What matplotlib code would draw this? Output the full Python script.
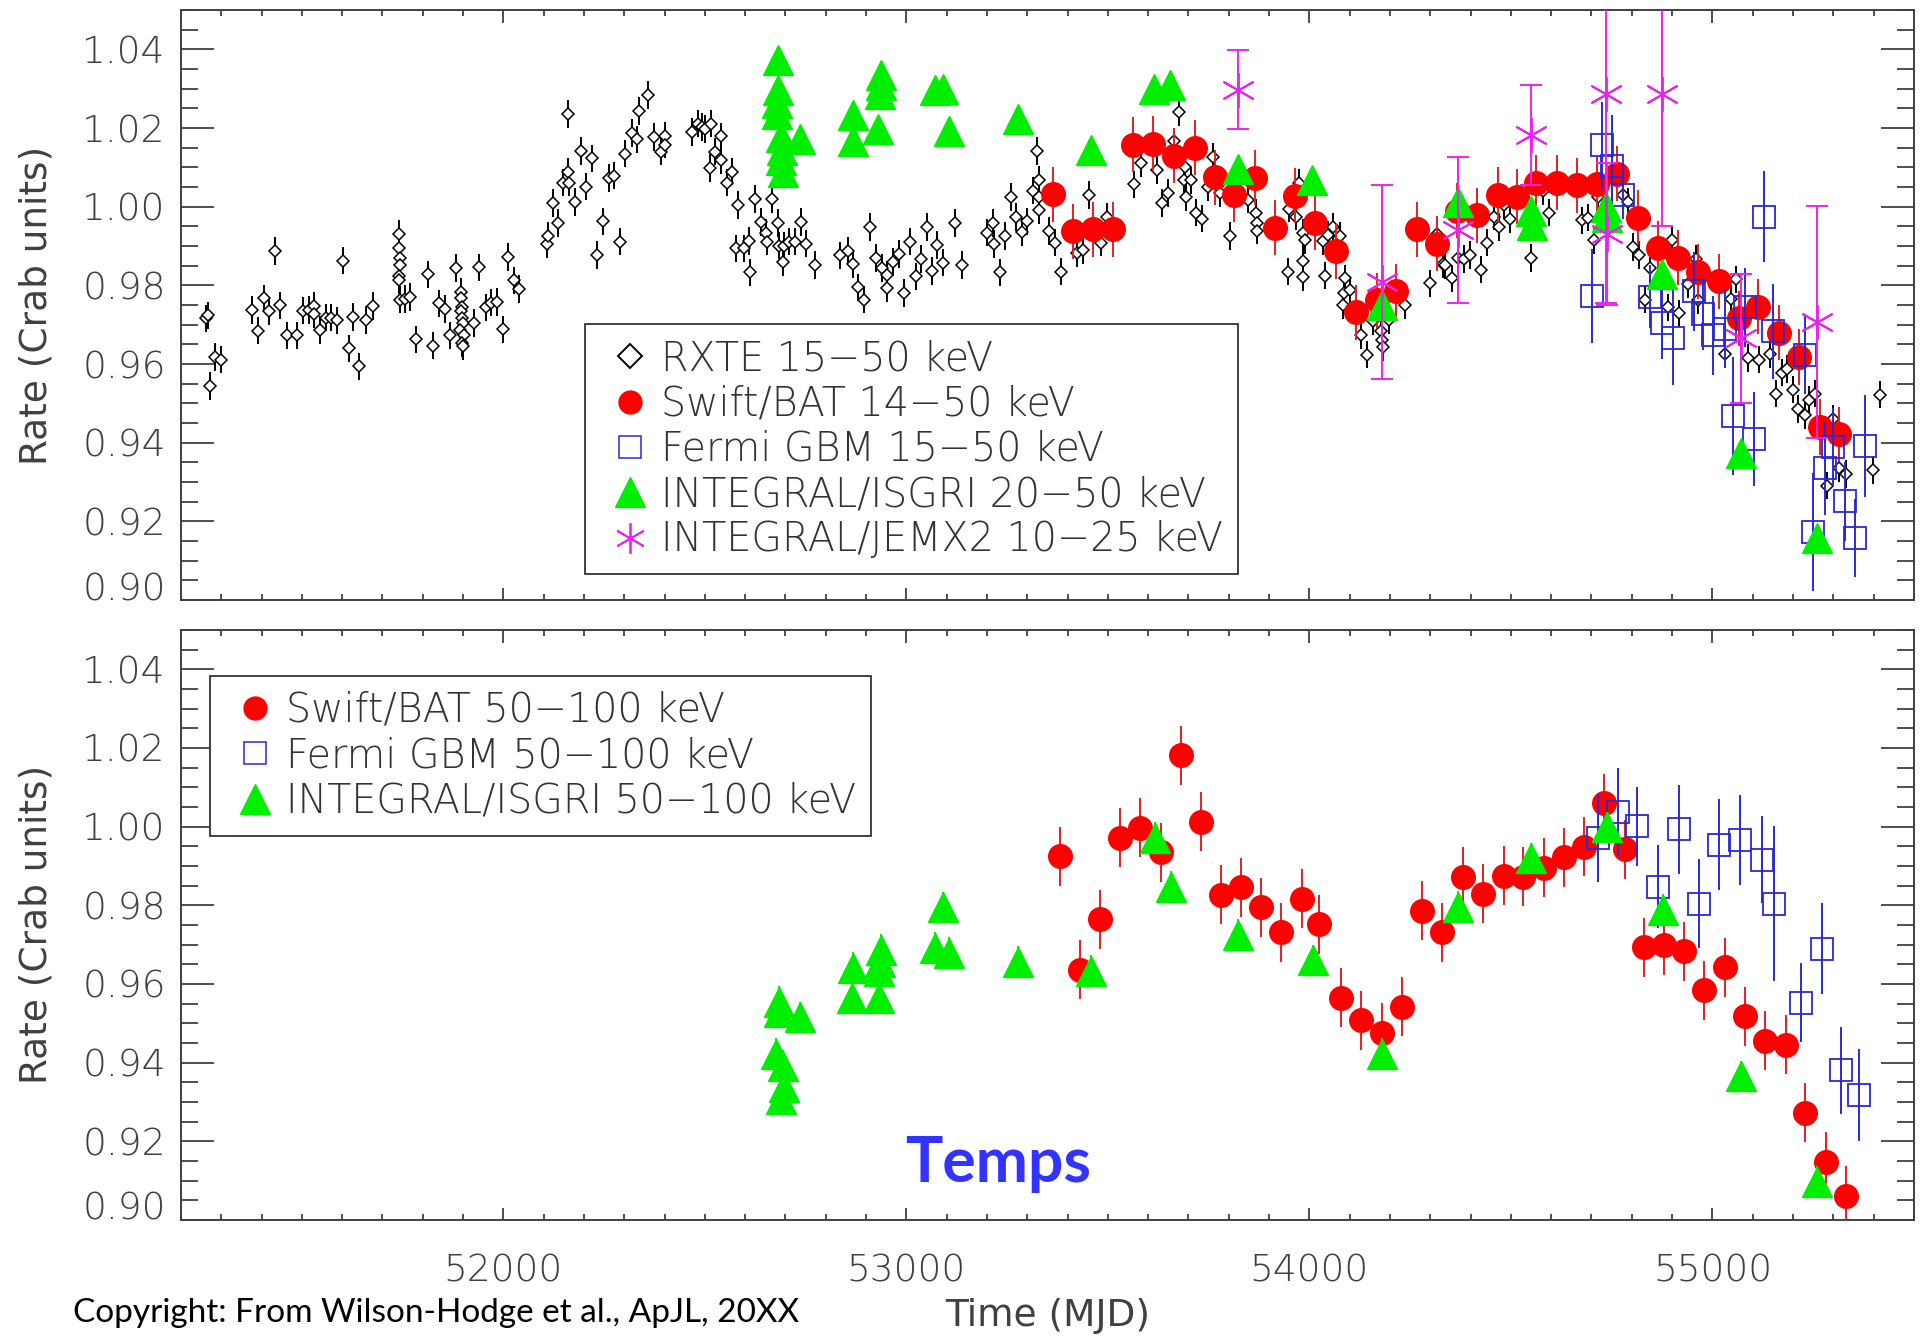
#--coding:utf-8--
# Crab nebula hard X-ray rate, several instruments (two panels)

import matplotlib
matplotlib.use('Agg')
import matplotlib.pyplot as plt
from matplotlib.lines import Line2D
from matplotlib.ticker import MultipleLocator

matplotlib.rcParams['xtick.direction'] = 'in'
matplotlib.rcParams['ytick.direction'] = 'in'
matplotlib.rcParams['font.family'] = ['DejaVu Sans']
matplotlib.rcParams['font.weight'] = 'light'

# ---------------- top panel: 15-50 keV ----------------
rxte_mjd = [51263, 51268, 51272, 51285, 51300, 51376, 51390, 51405, 51418, 51434,
            51445, 51462, 51488, 51503, 51517, 51530, 51530, 51545, 51560, 51573,
            51586, 51601, 51618, 51628, 51643, 51658, 51677, 51741, 51742, 51743,
            51744, 51742, 51741, 51743, 51755, 51769, 51784, 51812, 51825, 51840,
            51856, 51868, 51883, 51896, 51894, 51897, 51895, 51898, 51900, 51893,
            51902, 51897, 51900, 51926, 51939, 51956, 51969, 51984, 51998, 52012,
            52026, 52039, 52109, 52112, 52122, 52135, 52148, 52160, 52162, 52161,
            52177, 52192, 52205, 52221, 52233, 52248, 52261, 52274, 52289, 52303,
            52318, 52331, 52337, 52360, 52374, 52390, 52401, 52402, 52469, 52483,
            52494, 52501, 52516, 52512, 52525, 52540, 52541, 52554, 52567, 52583,
            52577, 52598, 52610, 52611, 52625, 52640, 52652, 52653, 52667, 52682,
            52683, 52693, 52697, 52710, 52723, 52738, 52751, 52774, 52836, 52854,
            52867, 52881, 52896, 52910, 52924, 52939, 52952, 52953, 52967, 52982,
            52993, 53010, 53023, 53036, 53050, 53063, 53076, 53091, 53120, 53139,
            53199, 53216, 53217, 53232, 53245, 53259, 53272, 53286, 53300, 53314,
            53323, 53328, 53329, 53330, 53355, 53369, 53384, 53423, 53439, 53452,
            53483, 53499, 53566, 53582, 53621, 53634, 53648, 53664, 53677, 53692,
            53689, 53693, 53706, 53718, 53733, 53748, 53762, 53777, 53804, 53847,
            53868, 53869, 53870, 53947, 53949, 53966, 53974, 53983, 53984, 53985,
            53988, 54034, 54038, 54046, 54058, 54075, 54083, 54085, 54088, 54100,
            54129, 54143, 54157, 54178, 54180, 54183, 54198, 54237, 54299, 54316,
            54331, 54337, 54353, 54368, 54383, 54398, 54426, 54441, 54458, 54470,
            54484, 54498, 54550, 54579, 54594, 54677, 54691, 54705, 54716, 54778,
            54790, 54803, 54817, 54832, 54846, 54890, 54900, 54917, 54939, 54960,
            54964, 55031, 55045, 55058, 55089, 55116, 55143, 55158, 55172, 55186,
            55201, 55213, 55230, 55240, 55255, 55284, 55299, 55315, 55332, 55398,
            55415]
rxte_rate = [0.9716, 0.9724, 0.9544, 0.9618, 0.9611, 0.9737, 0.9685, 0.9767, 0.9735, 0.9887,
             0.9749, 0.9673, 0.9673, 0.9736, 0.9738, 0.9748, 0.9726, 0.9687, 0.9718, 0.9718,
             0.9711, 0.9863, 0.9640, 0.9719, 0.9594, 0.9712, 0.9748, 0.9931, 0.9896, 0.9870,
             0.9852, 0.9825, 0.9813, 0.9764, 0.9766, 0.9770, 0.9663, 0.9828, 0.9647, 0.9754,
             0.9740, 0.9673, 0.9844, 0.9783, 0.9768, 0.9744, 0.9734, 0.9716, 0.9704, 0.9687,
             0.9675, 0.9653, 0.9645, 0.9704, 0.9846, 0.9744, 0.9756, 0.9758, 0.9688, 0.9872,
             0.9813, 0.9791, 0.9904, 0.9925, 1.0010, 0.9958, 1.0061, 1.0089, 1.0061, 1.0236,
             1.0012, 1.0142, 1.0051, 1.0123, 0.9877, 0.9963, 1.0073, 1.0079, 0.9911, 1.0135,
             1.0187, 1.0171, 1.0243, 1.0284, 1.0177, 1.0140, 1.0180, 1.0158, 1.0190, 1.0211,
             1.0202, 1.0197, 1.0211, 1.0099, 1.0140, 1.0179, 1.0118, 1.0061, 1.0089, 1.0005,
             0.9894, 0.9894, 0.9913, 0.9833, 1.0020, 0.9961, 0.9933, 0.9911, 1.0020, 0.9959,
             0.9901, 0.9860, 0.9900, 0.9911, 0.9911, 0.9961, 0.9906, 0.9852, 0.9876, 0.9887,
             0.9854, 0.9795, 0.9764, 0.9949, 0.9870, 0.9844, 0.9827, 0.9793, 0.9860, 0.9880,
             0.9781, 0.9911, 0.9823, 0.9867, 0.9948, 0.9837, 0.9903, 0.9858, 0.9958, 0.9852,
             0.9934, 0.9959, 0.9905, 0.9833, 0.9926, 1.0025, 0.9974, 0.9936, 0.9963, 1.0041,
             1.0141, 1.0069, 1.0025, 0.9992, 0.9938, 0.9909, 0.9835, 0.9882, 0.9890, 1.0030,
             0.9909, 0.9975, 1.0057, 1.0110, 1.0094, 1.0010, 1.0035, 1.0166, 1.0241, 1.0100,
             1.0067, 1.0025, 1.0067, 0.9985, 0.9970, 1.0049, 1.0126, 1.0035, 0.9926, 1.0018,
             0.9985, 0.9959, 0.9939, 0.9835, 0.9995, 0.9975, 1.0061, 0.9933, 0.9862, 0.9821,
             0.9916, 0.9913, 0.9825, 0.9929, 0.9949, 0.9926, 0.9749, 0.9781, 0.9818, 0.9788,
             0.9673, 0.9624, 0.9709, 0.9683, 0.9660, 0.9643, 0.9712, 0.9749, 0.9805, 0.9931,
             0.9854, 0.9852, 0.9818, 0.9870, 0.9867, 0.9877, 0.9840, 0.9909, 0.9975, 0.9949,
             1.0005, 0.9968, 0.9870, 1.0039, 0.9985, 0.9965, 0.9972, 0.9916, 1.0025, 1.0030,
             1.0012, 0.9897, 0.9877, 0.9764, 0.9844, 0.9744, 0.9916, 0.9729, 0.9803, 0.9867,
             0.9762, 0.9626, 0.9766, 0.9815, 0.9616, 0.9611, 0.9626, 0.9525, 0.9578, 0.9588,
             0.9535, 0.9486, 0.9470, 0.9509, 0.9525, 0.9291, 0.9460, 0.9335, 0.9320, 0.9330,
             0.9522]
rxte_err = 0.0035

bat_mjd = [53365, 53413, 53462, 53513, 53563, 53613, 53663, 53715, 53765, 53814,
           53866, 53914, 53965, 54015, 54066, 54115, 54167, 54216, 54266, 54316,
           54366, 54417, 54467, 54515, 54562, 54614, 54663, 54713, 54763, 54815,
           54865, 54915, 54964, 55017, 55066, 55114, 55166, 55216, 55267, 55315]
bat_rate = [1.0032, 0.9938, 0.9943, 0.9943, 1.0158, 1.0160, 1.0130, 1.0150, 1.0075, 1.0030,
            1.0074, 0.9946, 1.0028, 0.9959, 0.9887, 0.9732, 0.9762, 0.9785, 0.9943, 0.9906,
            0.9990, 0.9978, 1.0030, 1.0025, 1.0061, 1.0061, 1.0054, 1.0057, 1.0084, 0.9972,
            0.9894, 0.9870, 0.9835, 0.9811, 0.9716, 0.9746, 0.9680, 0.9618, 0.9440, 0.9421]
bat_err = 0.007

gbm_mjd = [54701, 54726, 54751, 54778, 54846, 54876, 54902, 54954, 54976, 55002,
           55031, 55051, 55080, 55103, 55128, 55151, 55230, 55249, 55279, 55300,
           55329, 55354, 55379]
gbm_rate = [0.9773, 1.0156, 1.0103, 1.0030, 0.9771, 0.9704, 0.9667, 0.9785, 0.9726, 0.9673,
            0.9690, 0.9468, 0.9744, 0.9409, 0.9975, 0.9683, 0.9624, 0.9172, 0.9335, 0.9389,
            0.9251, 0.9158, 0.9391]
gbm_err = [0.012, 0.011, 0.013, 0.006, 0.008, 0.009, 0.012, 0.010, 0.009, 0.010,
           0.010, 0.015, 0.010, 0.012, 0.0115, 0.012, 0.010, 0.015, 0.012, 0.010,
           0.010, 0.010, 0.013]

isgri_mjd = [52681, 52681, 52678, 52678, 52689, 52692, 52689, 52693, 52735, 52867,
             52867, 52938, 52938, 52934, 52930, 53070, 53091, 53106, 53278, 53458,
             53615, 53654, 53824, 54007, 54179, 54370, 54550, 54552, 54736, 54738,
             54876, 55072, 55260]
isgri_rate = [1.0374, 1.0296, 1.0264, 1.0236, 1.0177, 1.0143, 1.0118, 1.0089, 1.0172, 1.0232,
              1.0168, 1.0335, 1.0310, 1.0286, 1.0197, 1.0296, 1.0300, 1.0192, 1.0222, 1.0143,
              1.0300, 1.0310, 1.0097, 1.0067, 0.9749, 1.0012, 0.9990, 0.9953, 1.0000, 0.9975,
              0.9828, 0.9374, 0.9158]
isgri_err = 0.003

jemx_mjd = [53824, 54179, 54370, 54550, 54735, 54739, 54876, 55072, 55260]
jemx_rate = [1.0298, 0.9808, 0.9941, 1.0182, 1.0286, 0.9931, 1.0286, 0.9665, 0.9706]
jemx_err = [0.010, 0.0246, 0.0185, 0.0128, 0.053, 0.018, 0.0335, 0.0163, 0.0295]

# ---------------- bottom panel: 50-100 keV ----------------
bat2_mjd = [53381, 53432, 53481, 53530, 53580, 53631, 53682, 53732, 53781, 53830,
            53881, 53930, 53981, 54024, 54079, 54129, 54179, 54230, 54280, 54330,
            54380, 54430, 54482, 54531, 54581, 54631, 54682, 54732, 54782, 54831,
            54881, 54930, 54980, 55031, 55080, 55130, 55182, 55231, 55281, 55331]
bat2_rate = [0.9924, 0.9636, 0.9764, 0.9972, 0.9997, 0.9935, 1.0181, 1.0012, 0.9827, 0.9846,
             0.9795, 0.9731, 0.9817, 0.9752, 0.9565, 0.9508, 0.9476, 0.9542, 0.9786, 0.9732,
             0.9873, 0.9829, 0.9875, 0.9873, 0.9895, 0.9922, 0.9949, 1.0060, 0.9942, 0.9693,
             0.9698, 0.9683, 0.9584, 0.9643, 0.9518, 0.9456, 0.9446, 0.9272, 0.9148, 0.9062]
bat2_err = 0.0075

gbm2_mjd = [54715, 54767, 54814, 54866, 54917, 54966, 55016, 55069, 55122, 55154,
            55221, 55271, 55318, 55365]
gbm2_rate = [0.9971, 1.0037, 1.0001, 0.9847, 0.9993, 0.9804, 0.9954, 0.9966, 0.9916, 0.9804,
             0.9552, 0.9690, 0.9380, 0.9318]
gbm2_err = [0.0113, 0.0113, 0.010, 0.0106, 0.0113, 0.0113, 0.0116, 0.0114, 0.011, 0.0197,
            0.010, 0.0116, 0.011, 0.0117]

isgri2_mjd = [52684, 52684, 52735, 52676, 52694, 52696, 52689, 52868, 52865, 52937,
              52934, 52932, 52931, 53091, 53070, 53106, 53278, 53459, 53616, 53656,
              53824, 54009, 54179, 54370, 54551, 54738, 54877, 55071, 55259]
isgri2_rate = [0.9555, 0.9528, 0.9515, 0.9422, 0.9392, 0.9338, 0.9308, 0.9640, 0.9564, 0.9687,
               0.9657, 0.9633, 0.9564, 0.9795, 0.9691, 0.9679, 0.9657, 0.9633, 0.9972, 0.9846,
               0.9724, 0.9660, 0.9422, 0.9796, 0.9919, 0.9998, 0.9788, 0.9365, 0.9097]
isgri2_err = 0.004

yticks = [0.90, 0.92, 0.94, 0.96, 0.98, 1.00, 1.02, 1.04]
xticks = [52000, 53000, 54000, 55000]

GREY = '#404040'
RED = '#ff0000'
BLUE = '#2a2ad2'
GREEN = '#00ee00'
MAGENTA = '#ee22ee'


def style_axes(ax, show_xlabels):
    ax.set_xlim(51200, 55500)
    ax.set_ylim(0.90, 1.05)
    ax.set_yticks(yticks)
    ax.set_yticklabels(['%.2f' % v for v in yticks])
    ax.yaxis.set_minor_locator(MultipleLocator(0.005))
    ax.set_xticks(xticks)
    ax.xaxis.set_minor_locator(MultipleLocator(100))
    ax.tick_params(axis='y', which='major', length=24, width=1.3, pad=11,
                   labelsize=27, labelcolor=GREY, color=GREY, left=True, right=True)
    ax.tick_params(axis='y', which='minor', length=12, width=1.3, color=GREY,
                   left=True, right=True)
    ax.tick_params(axis='x', which='major', length=9, width=1.3, pad=24,
                   labelsize=27, labelcolor=GREY, color=GREY, top=True, bottom=True,
                   labelbottom=show_xlabels)
    ax.tick_params(axis='x', which='minor', length=4.5, width=1.3, color=GREY,
                   top=True, bottom=True)
    for sp in ax.spines.values():
        sp.set_linewidth(1.4)
        sp.set_color(GREY)
    ax.get_yticklabels()[0].set_va('baseline')
    ax.set_ylabel('Rate (Crab units)', fontsize=27, color=GREY, labelpad=20)


fig = plt.figure(figsize=(19.27, 13.40), dpi=100)
ax1 = fig.add_axes([0.0939, 0.5522, 0.8993, 0.4403])
ax2 = fig.add_axes([0.0939, 0.0896, 0.8993, 0.4403])

# top panel
ax1.errorbar(rxte_mjd, rxte_rate, yerr=rxte_err, fmt='D', ms=6.2, mfc='white', mec='k',
             mew=1.1, ecolor='k', elinewidth=1.4, capsize=0, zorder=3)
ax1.errorbar(bat_mjd, bat_rate, yerr=bat_err, fmt='o', ms=17, mfc=RED, mec=RED,
             ecolor='#e02020', elinewidth=1.4, capsize=0, zorder=4)
ax1.errorbar(gbm_mjd, gbm_rate, yerr=gbm_err, fmt='s', ms=16, mfc='none', mec=BLUE,
             mew=1.3, ecolor=BLUE, elinewidth=1.4, capsize=0, zorder=5)
ax1.errorbar(isgri_mjd, isgri_rate, yerr=isgri_err, fmt='^', ms=21, mfc=GREEN, mec=GREEN,
             ecolor=GREEN, elinewidth=1.4, capsize=0, zorder=6)
ax1.errorbar(jemx_mjd, jemx_rate, yerr=jemx_err, fmt='none', ecolor=MAGENTA,
             elinewidth=1.4, capsize=8, capthick=1.4, zorder=7)
ax1.plot(jemx_mjd, jemx_rate, ls='none', marker=(6, 2, 0), ms=25, mec=MAGENTA,
         mew=1.4, zorder=7)
style_axes(ax1, False)

h_rxte = Line2D([], [], ls='none', marker='D', ms=12, mfc='none', mec='k', mew=1.4)
h_bat = Line2D([], [], ls='none', marker='o', ms=16.5, mfc=RED, mec=RED)
h_gbm = Line2D([], [], ls='none', marker='s', ms=15.5, mfc='none', mec=BLUE, mew=1.1)
h_isgri = Line2D([], [], ls='none', marker='^', ms=21, mfc=GREEN, mec=GREEN)
h_jemx = Line2D([], [], ls='none', marker=(6, 2, 0), ms=22, mec=MAGENTA, mew=1.3)

leg_kw = dict(loc='upper left', borderaxespad=0, fontsize=28.5, labelcolor='#333333',
              fancybox=False, framealpha=1, edgecolor='#333333', borderpad=0.38,
              labelspacing=0.16, handlelength=1.5, handletextpad=0.05, numpoints=1)

leg1 = ax1.legend([h_rxte, h_bat, h_gbm, h_isgri, h_jemx],
                  ['RXTE 15\u221250 keV', 'Swift/BAT 14\u221250 keV',
                   'Fermi GBM 15\u221250 keV', 'INTEGRAL/ISGRI 20\u221250 keV',
                   'INTEGRAL/JEMX2 10\u221225 keV'],
                  bbox_to_anchor=(0.2331, 0.4678), **leg_kw)
leg1.get_frame().set_linewidth(1.3)
leg1.set_zorder(10)

# bottom panel
ax2.errorbar(bat2_mjd, bat2_rate, yerr=bat2_err, fmt='o', ms=17, mfc=RED, mec=RED,
             ecolor='#e02020', elinewidth=1.4, capsize=0, zorder=4)
ax2.errorbar(gbm2_mjd, gbm2_rate, yerr=gbm2_err, fmt='s', ms=16, mfc='none', mec=BLUE,
             mew=1.3, ecolor=BLUE, elinewidth=1.4, capsize=0, zorder=5)
ax2.errorbar(isgri2_mjd, isgri2_rate, yerr=isgri2_err, fmt='^', ms=21, mfc=GREEN, mec=GREEN,
             ecolor=GREEN, elinewidth=1.4, capsize=0, zorder=6)
style_axes(ax2, True)
ax2.set_xlabel('Time (MJD)', fontsize=27, color=GREY, labelpad=7)

leg2 = ax2.legend([h_bat, h_gbm, h_isgri],
                  ['Swift/BAT 50\u2212100 keV', 'Fermi GBM 50\u2212100 keV',
                   'INTEGRAL/ISGRI 50\u2212100 keV'],
                  bbox_to_anchor=(0.0167, 0.922), **leg_kw)
leg2.get_frame().set_linewidth(1.3)
leg2.set_zorder(10)

fig.text(0.518, 0.1179, 'Temps', fontsize=45, family='Lato', weight='bold',
         color='#3333ff', ha='center', va='baseline')
fig.text(0.038, 0.0134, 'Copyright: From Wilson-Hodge et al., ApJL, 20XX',
         fontsize=24, family='Lato', weight='normal', color='black', va='baseline')

plt.savefig('out.png', dpi=100)
